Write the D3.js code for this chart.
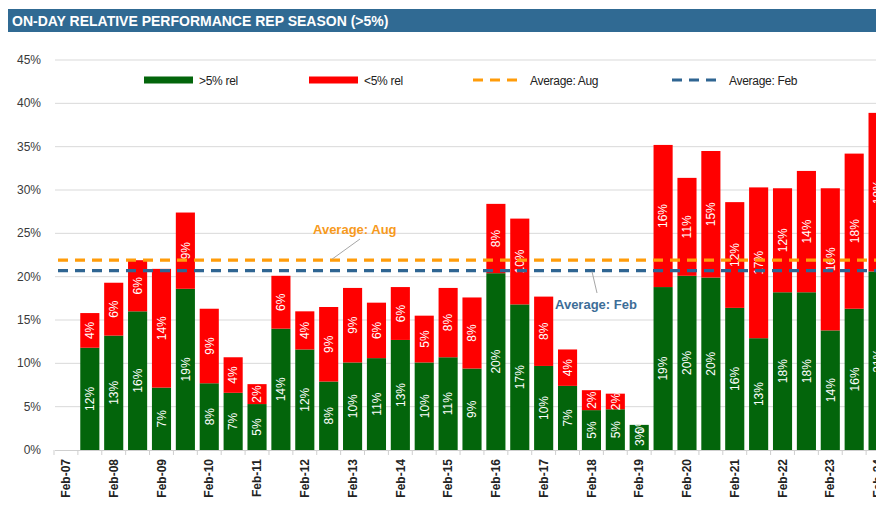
<!DOCTYPE html>
<html>
<head>
<meta charset="utf-8">
<script src="https://cdn.jsdelivr.net/npm/d3@7"></script>
<style>
  body { margin: 0; background: #fff; }
  svg { display: block; font-family: "Liberation Sans", Arial, sans-serif; }
</style>
</head>
<body>
<svg id="chart" width="876" height="510"></svg>
<script>
// categories: one per reporting season (Feb / Aug)
const categories = ["Feb-07","Aug-07","Feb-08","Aug-08","Feb-09","Aug-09","Feb-10","Aug-10","Feb-11","Aug-11",
  "Feb-12","Aug-12","Feb-13","Aug-13","Feb-14","Aug-14","Feb-15","Aug-15","Feb-16","Aug-16",
  "Feb-17","Aug-17","Feb-18","Aug-18","Feb-19","Aug-19","Feb-20","Aug-20","Feb-21","Aug-21",
  "Feb-22","Aug-22","Feb-23","Aug-23","Feb-24"];

// share of stocks moving >5% relative on the day (%)
const above5 = [null,11.8,13.2,16.0,7.2,18.6,7.7,6.6,5.3,14.0,
  11.6,7.9,10.1,10.6,12.7,10.1,10.7,9.4,20.4,16.8,
  9.7,7.4,4.6,4.7,2.9,18.8,20.1,19.9,16.4,12.9,
  18.2,18.2,13.8,16.3,20.6];

// share of stocks moving <-5% relative on the day (%)
const below5 = [null,4.0,6.1,5.9,13.7,8.8,8.6,4.1,2.3,6.1,
  4.4,8.6,8.6,6.4,6.1,5.4,8.0,8.2,8.0,9.9,
  8.0,4.2,2.3,1.8,0.0,16.4,11.3,14.6,12.2,17.4,
  12.0,14.0,16.4,17.9,18.3];

const avgAug = 21.9;
const avgFeb = 20.7;

const yTicks = [0,5,10,15,20,25,30,35,40,45];

const seriesNames = [">5% rel", "<5% rel"];
const colors = {green: "#03650b", red: "#ff0000", aug: "#ff9c0a", feb: "#2f6592"};

const rows = categories.map((c, i) => ({cat: c, up: above5[i], down: below5[i]}));

const svg = d3.select("#chart");

// title bar
svg.append("rect").attr("x", 8).attr("y", 9).attr("width", 868).attr("height", 23).attr("fill", "#306a93");
svg.append("text")
  .attr("x", 12).attr("y", 25.5)
  .attr("fill", "#fff")
  .style("font-weight", "bold")
  .style("font-size", "14px")
  .text("ON-DAY RELATIVE PERFORMANCE REP SEASON (>5%)");

const x = d3.scaleBand()
  .domain(categories)
  .range([54, 54 + 23.886 * categories.length])
  .paddingInner(0.2)
  .paddingOuter(0.1);

const y = d3.scaleLinear().domain([0, 45]).range([450, 60]);

// gridlines
svg.append("g")
  .selectAll("line")
  .data(yTicks.filter(d => d > 0))
  .join("line")
  .attr("x1", 55).attr("x2", 876)
  .attr("y1", d => y(d)).attr("y2", d => y(d))
  .attr("stroke", "#d9d9d9").attr("stroke-width", 1);

// y axis labels
svg.append("g")
  .selectAll("text")
  .data(yTicks)
  .join("text")
  .attr("x", 41)
  .attr("y", d => y(d) + 4)
  .attr("text-anchor", "end")
  .attr("fill", "#3a3a3a")
  .style("font-size", "12px")
  .text(d => d + "%");

// bars
const g = svg.append("g");
const valid = rows.filter(d => d.up !== null);

g.selectAll("rect.up")
  .data(valid)
  .join("rect")
  .attr("class", "up")
  .attr("x", d => x(d.cat))
  .attr("width", x.bandwidth())
  .attr("y", d => y(d.up))
  .attr("height", d => y(0) - y(d.up))
  .attr("fill", colors.green);

g.selectAll("rect.down")
  .data(valid)
  .join("rect")
  .attr("class", "down")
  .attr("x", d => x(d.cat))
  .attr("width", x.bandwidth())
  .attr("y", d => y(d.up + d.down))
  .attr("height", d => y(d.up) - y(d.up + d.down))
  .attr("fill", colors.red);

// x axis line + boundary ticks
svg.append("line")
  .attr("x1", 55).attr("x2", 876)
  .attr("y1", y(0) + 0.5).attr("y2", y(0) + 0.5)
  .attr("stroke", "#cfcfcf");

svg.append("g")
  .selectAll("line")
  .data(categories)
  .join("line")
  .attr("x1", d => x(d) - x.step() * x.paddingInner() / 2)
  .attr("x2", d => x(d) - x.step() * x.paddingInner() / 2)
  .attr("y1", y(0)).attr("y2", y(0) + 5)
  .attr("stroke", "#cfcfcf");

// x labels: Feb seasons only
const xAxis = d3.axisBottom(x)
  .tickValues(categories.filter(c => c.startsWith("Feb")))
  .tickSize(0)
  .tickPadding(0);

const xg = svg.append("g")
  .attr("transform", `translate(0,${y(0)})`)
  .call(xAxis);
xg.select(".domain").remove();
xg.selectAll("text")
  .attr("transform", "rotate(-90)")
  .attr("x", -9)
  .attr("y", 0)
  .attr("dy", "0.35em")
  .attr("text-anchor", "end")
  .attr("fill", "#222")
  .style("font-family", "'Liberation Sans', Arial, sans-serif")
  .style("font-size", "12px")
  .style("font-weight", "bold");

// average lines
const avgLines = [{v: avgAug, c: colors.aug}, {v: avgFeb, c: colors.feb}];
svg.append("g")
  .selectAll("line")
  .data(avgLines)
  .join("line")
  .attr("x1", 58).attr("x2", 876)
  .attr("y1", d => y(d.v)).attr("y2", d => y(d.v))
  .attr("stroke", d => d.c)
  .attr("stroke-width", 3.2)
  .attr("stroke-dasharray", "10,7");

// data labels (rotated, white)
function segLabel(cls, val, mid) {
  g.selectAll("text." + cls)
    .data(valid)
    .join("text")
    .attr("class", cls)
    .attr("transform", d => `translate(${x(d.cat) + x.bandwidth() / 2},${mid(d)}) rotate(-90)`)
    .attr("text-anchor", "middle")
    .attr("dy", "0.36em")
    .attr("fill", "#fff")
    .style("font-family", "'Liberation Sans Narrow', 'Arial Narrow', sans-serif")
    .style("font-size", "12px")
    .text(d => Math.round(val(d)) + "%");
}
segLabel("lup", d => d.up, d => y(d.up / 2));
segLabel("ldown", d => d.down, d => y(d.up + d.down / 2));

// annotations
svg.append("line")
  .attr("x1", 360).attr("y1", 239).attr("x2", 332).attr("y2", y(avgAug) - 1)
  .attr("stroke", "#a6a6a6").attr("stroke-width", 1);
svg.append("text")
  .attr("x", 313).attr("y", 234)
  .attr("fill", "#f79a1c")
  .style("font-weight", "bold").style("font-size", "13px")
  .text("Average: Aug");

svg.append("line")
  .attr("x1", 592).attr("y1", y(avgFeb) + 1).attr("x2", 597).attr("y2", 293)
  .attr("stroke", "#a6a6a6").attr("stroke-width", 1);
svg.append("text")
  .attr("x", 555).attr("y", 309)
  .attr("fill", "#3d6d97")
  .style("font-weight", "bold").style("font-size", "13px")
  .text("Average: Feb");

// legend
const legend = [
  {name: seriesNames[0], type: "bar", c: colors.green, x: 144},
  {name: seriesNames[1], type: "bar", c: colors.red, x: 309},
  {name: "Average: Aug", type: "line", c: colors.aug, x: 473},
  {name: "Average: Feb", type: "line", c: colors.feb, x: 672}
];
const lg = svg.append("g").selectAll("g").data(legend).join("g")
  .attr("transform", d => `translate(${d.x},80)`);
lg.filter(d => d.type === "bar").append("rect")
  .attr("x", 0).attr("y", -3.5).attr("width", 49).attr("height", 7)
  .attr("fill", d => d.c);
lg.filter(d => d.type === "line").append("line")
  .attr("x1", 0).attr("x2", 49).attr("y1", 0).attr("y2", 0)
  .attr("stroke", d => d.c).attr("stroke-width", 3.2)
  .attr("stroke-dasharray", "10,7");
lg.append("text")
  .attr("x", d => d.type === "bar" ? 55 : 57)
  .attr("y", 4.5)
  .attr("fill", "#222")
  .style("font-size", "12px")
  .style("letter-spacing", "-0.3px")
  .text(d => d.name);
</script>
</body>
</html>
